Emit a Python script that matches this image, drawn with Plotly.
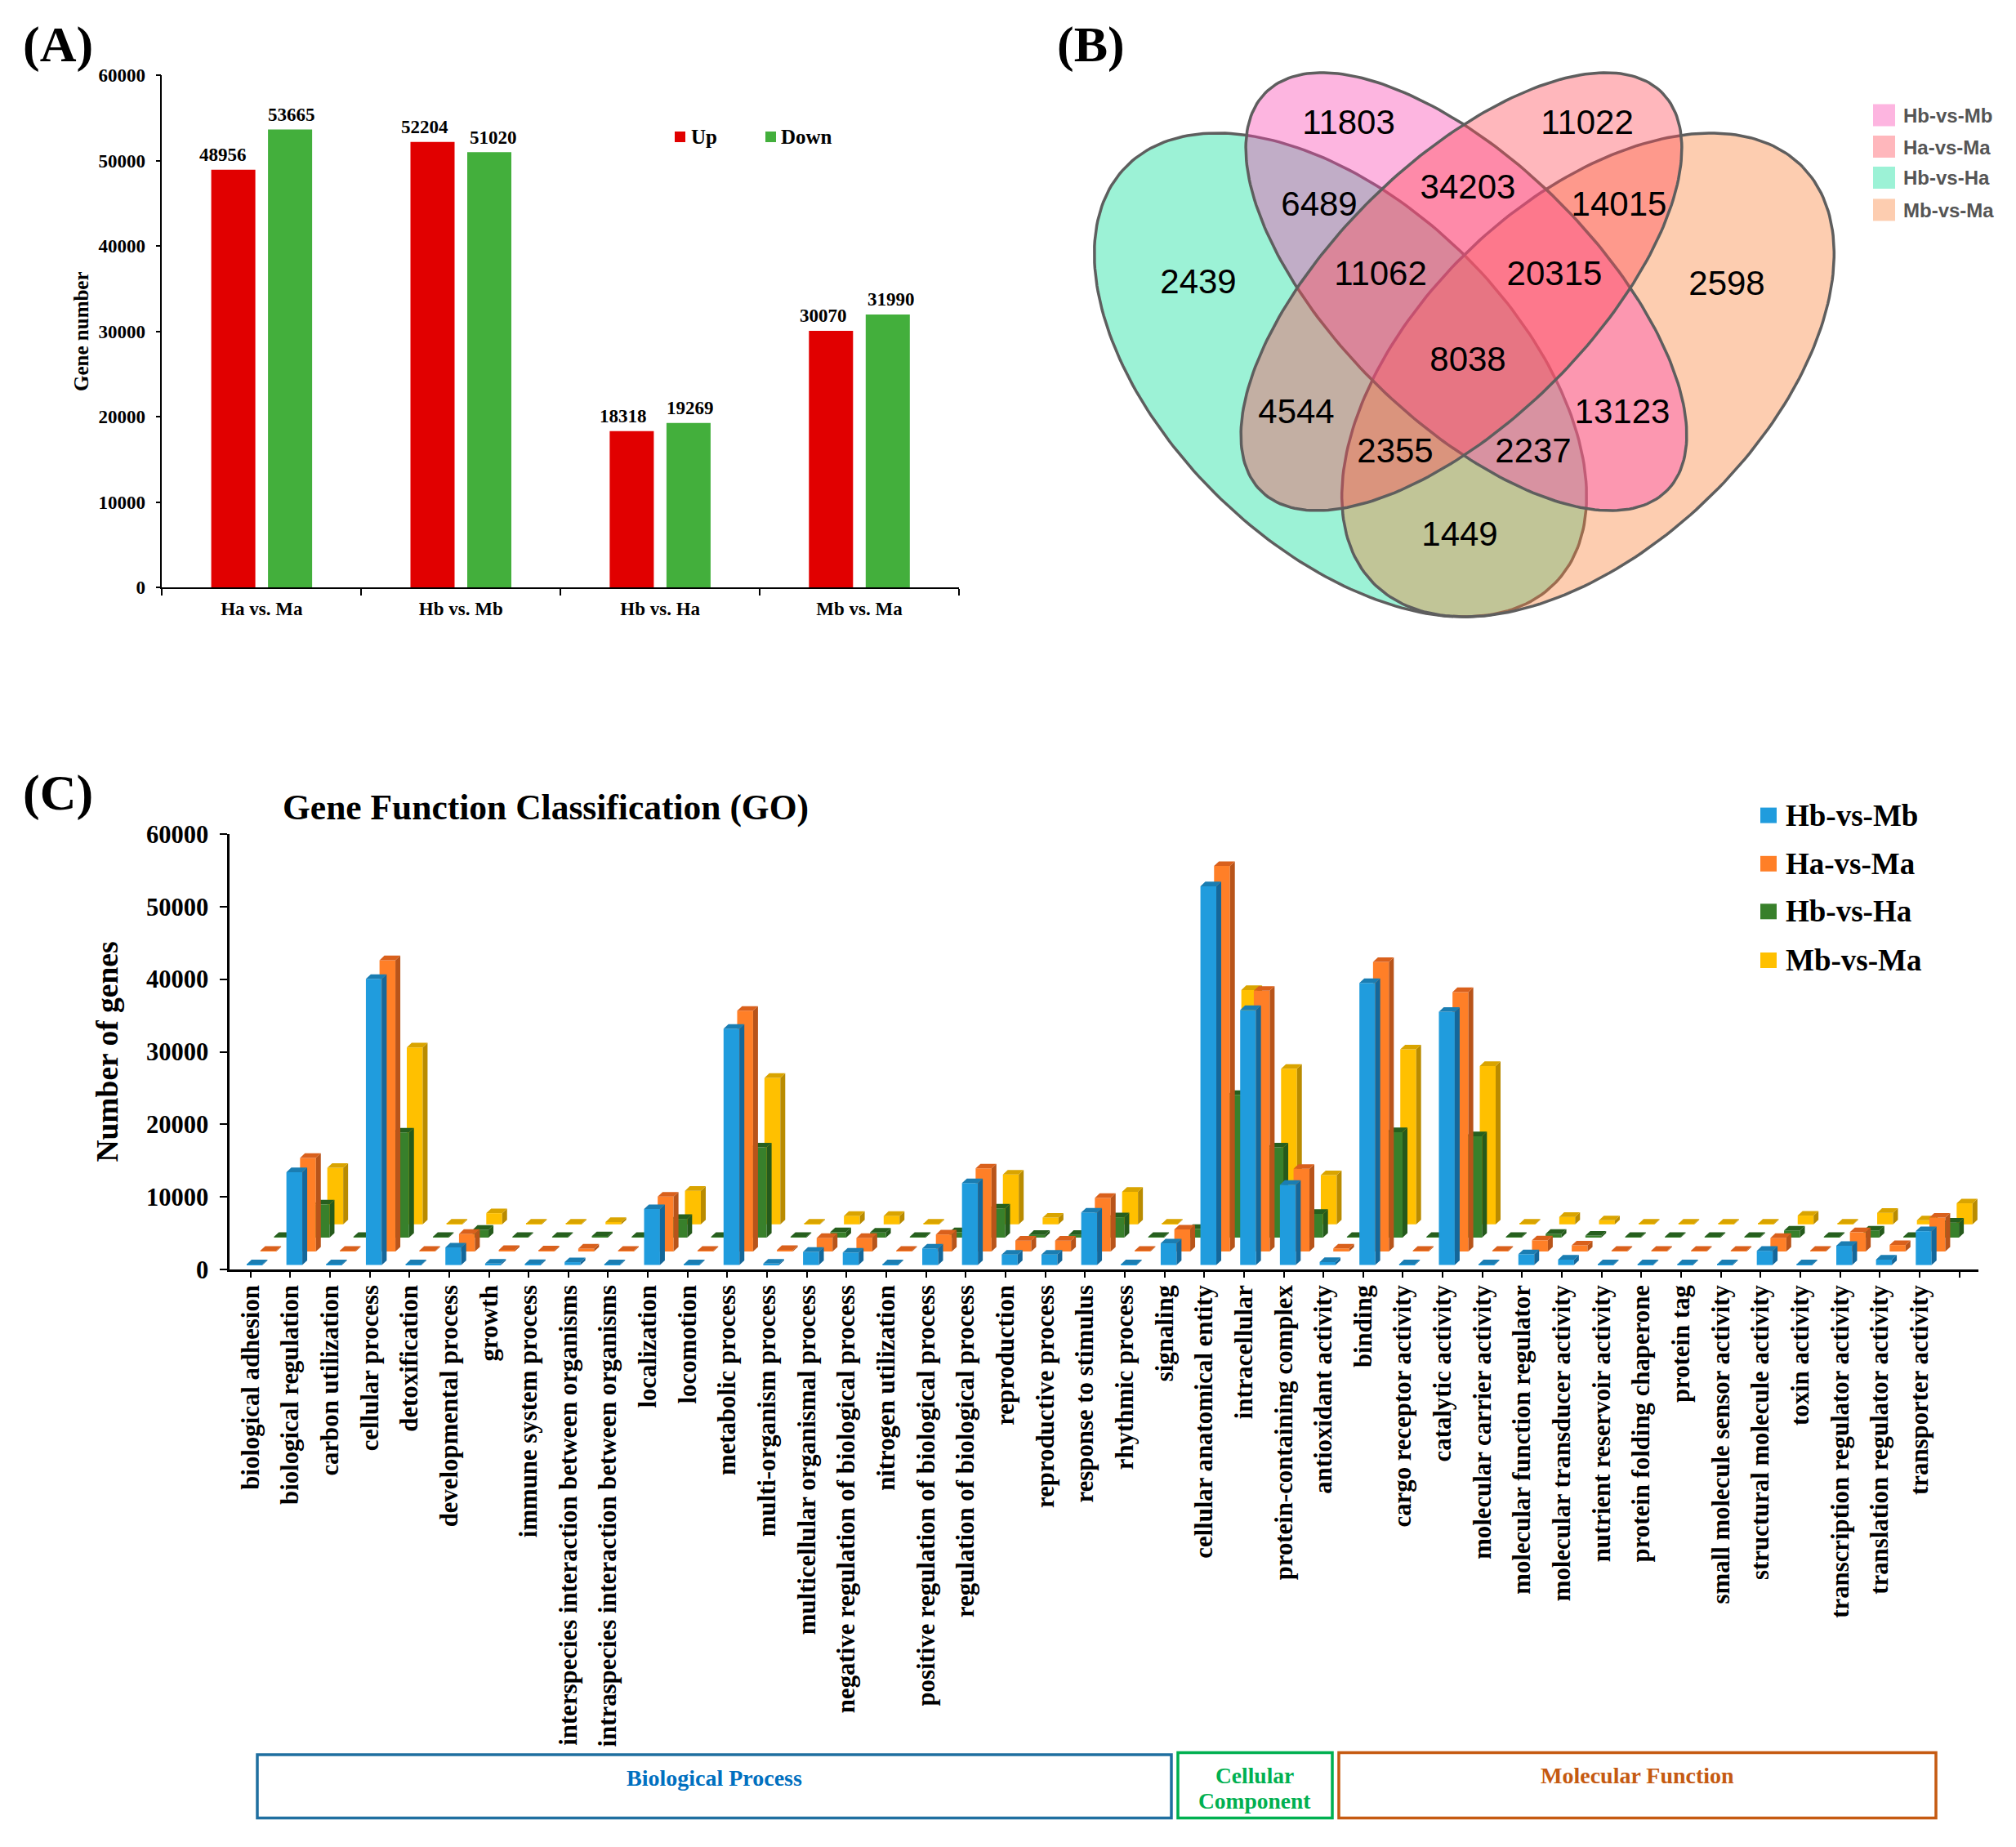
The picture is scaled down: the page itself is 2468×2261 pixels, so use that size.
import numpy as np
import plotly.graph_objects as go

W, H = 2468, 2261
SERIF = "Liberation Serif"
SANS = "Liberation Sans"

# ---------- Panel A data ----------
a_categories = ["Ha vs. Ma", "Hb vs. Mb", "Hb vs. Ha", "Mb vs. Ma"]
a_up = [48956, 52204, 18318, 30070]
a_down = [53665, 51020, 19269, 31990]
a_up_label_shift = [-13, -10, -11, -9]
a_down_label_shift = [2, 5, 2, 4]

# ---------- Panel B data ----------
venn_sets = ["Hb-vs-Ha", "Mb-vs-Ma", "Hb-vs-Mb", "Ha-vs-Ma"]
venn_values = [11803, 11022, 6489, 34203, 14015, 2439, 11062, 20315, 2598, 8038,
               4544, 13123, 2355, 2237, 1449]
venn_label_x = [1651, 1943, 1615, 1797, 1982, 1467, 1690, 1903, 2114, 1797,
                1587, 1986, 1708, 1877, 1787]
venn_label_y = [153, 153, 253, 232, 253, 348, 338, 338, 350, 443,
                507, 507, 555, 555, 657]
venn_cx = [1641, 1944, 1795, 1789]
venn_cy = [459, 459, 357, 357]
venn_a = [366, 366, 346, 346]
venn_b = [211, 211, 158, 158]
venn_angle = [44, -44, 44.7, -44.7]
venn_fill = ["rgba(57,229,173,0.5)", "rgba(250,130,57,0.4)",
             "rgba(250,70,177,0.4)", "rgba(255,75,87,0.4)"]
venn_legend_names = ["Hb-vs-Mb", "Ha-vs-Ma", "Hb-vs-Ha", "Mb-vs-Ma"]
venn_legend_colors = ["#FDB5E0", "#FFB7BC", "#9CF2D6", "#FDCDB0"]

# ---------- Panel C data ----------
go_terms = [
    "biological adhesion", "biological regulation", "carbon utilization", "cellular process",
    "detoxification", "developmental process", "growth", "immune system process",
    "interspecies interaction between organisms", "intraspecies interaction between organisms",
    "localization", "locomotion", "metabolic process", "multi-organism process",
    "multicellular organismal process", "negative regulation of biological process",
    "nitrogen utilization", "positive regulation of biological process",
    "regulation of biological process", "reproduction", "reproductive process",
    "response to stimulus", "rhythmic process", "signaling", "cellular anatomical entity",
    "intracellular", "protein-containing complex", "antioxidant activity", "binding",
    "cargo receptor activity", "catalytic activity", "molecular carrier activity",
    "molecular function regulator", "molecular transducer activity", "nutrient reservoir activity",
    "protein folding chaperone", "protein tag", "small molecule sensor activity",
    "structural molecule activity", "toxin activity", "transcription regulator activity",
    "translation regulator activity", "transporter activity",
]
hb_vs_mb = [100, 12800, 100, 39440, 100, 2430, 200, 150, 400, 100, 7710, 100, 32570, 200,
            1820, 1730, 100, 2290, 11300, 1450, 1450, 7240, 100, 2990, 52200, 35140, 11070,
            420, 38880, 100, 34900, 100, 1500, 750, 100, 100, 100, 100, 1960, 100, 2660, 750, 4670]
ha_vs_ma = [100, 12900, 100, 40140, 100, 2430, 200, 150, 400, 100, 7570, 100, 33180, 200,
            1870, 1870, 100, 2340, 11450, 1500, 1500, 7380, 100, 3040, 53130, 35930, 11400,
            420, 39900, 100, 35750, 100, 1540, 840, 100, 100, 100, 100, 1870, 100, 2660, 890, 4670]
hb_vs_ha = [100, 4580, 100, 14490, 100, 1070, 100, 100, 190, 100, 2570, 100, 12430, 100,
            750, 700, 100, 750, 4020, 370, 370, 2800, 100, 1200, 19670, 12430, 3270,
            100, 14530, 100, 13970, 100, 510, 280, 100, 100, 100, 100, 980, 100, 980, 100, 2060]
mb_vs_ma = [100, 7800, 100, 24390, 100, 1540, 100, 100, 320, 100, 4630, 100, 20190, 100,
            1170, 1170, 100, 100, 6870, 930, 100, 4490, 100, 100, 32290, 21450, 6780,
            100, 24110, 100, 21820, 100, 1030, 560, 100, 100, 100, 100, 1210, 100, 1590, 560, 2900]
c_series_names = ["Hb-vs-Mb", "Ha-vs-Ma", "Hb-vs-Ha", "Mb-vs-Ma"]
c_series_values = [hb_vs_mb, ha_vs_ma, hb_vs_ha, mb_vs_ma]
c_depth_base = [607, 2477, 4393, 6215]
c_front = ["#209CDD", "#FF7F27", "#38802B", "#FFC000"]
c_top = ["#1A7DB2", "#D9601C", "#265F1E", "#D9A400"]
c_side = ["#14679A", "#B8541A", "#255A1C", "#B98B00"]

# ---------- pixel helpers for layout only ----------
def fx(p):
    return p / W

def fy(p):
    return 1 - p / H

shapes, annotations = [], []

def label(x, y, text, size, family=SERIF, weight=700, color="#000000", xanchor="center"):
    annotations.append(dict(x=fx(x), y=fy(y), xref="paper", yref="paper", text=text, showarrow=False,
                            xanchor=xanchor, yanchor="middle",
                            font=dict(family=family, size=size, weight=weight, color=color)))

def swatch(x0, y0, x1, y1, color):
    shapes.append(dict(type="rect", xref="paper", yref="paper", x0=fx(x0), x1=fx(x1), y0=fy(y0), y1=fy(y1),
                       fillcolor=color, line=dict(width=0)))

def box(x0, y0, x1, y1, color):
    shapes.append(dict(type="rect", xref="paper", yref="paper", x0=fx(x0), x1=fx(x1), y0=fy(y0), y1=fy(y1),
                       fillcolor="rgba(0,0,0,0)", line=dict(width=3.5, color=color)))

fig = go.Figure()

# ---------- Panel A ----------
fig.add_trace(go.Bar(x=a_categories, y=a_up, name="Up", marker=dict(color="#E10000", line=dict(width=0)),
                     xaxis="x", yaxis="y", showlegend=False))
fig.add_trace(go.Bar(x=a_categories, y=a_down, name="Down", marker=dict(color="#43AF3C", line=dict(width=0)),
                     xaxis="x", yaxis="y", showlegend=False))
for i, cat in enumerate(a_categories):
    annotations.append(dict(x=i - 0.142, y=a_up[i], xref="x", yref="y", text=str(a_up[i]), showarrow=False,
                            xshift=a_up_label_shift[i], yshift=18,
                            font=dict(family=SERIF, size=23, weight=700, color="#000000")))
    annotations.append(dict(x=i + 0.142, y=a_down[i], xref="x", yref="y", text=str(a_down[i]), showarrow=False,
                            xshift=a_down_label_shift[i], yshift=18,
                            font=dict(family=SERIF, size=23, weight=700, color="#000000")))
swatch(826, 161, 839, 174, "#E10000")
label(844, 168, "Up", 25, xanchor="left")
swatch(937, 161, 950, 174, "#43AF3C")
label(954, 168, "Down", 25, xanchor="left")
label(71, 54, "(A)", 62)

# ---------- Panel B ----------
for k in range(4):
    t = np.linspace(0, 2 * np.pi, 241)
    th = np.radians(venn_angle[k])
    ex = venn_cx[k] + venn_a[k] * np.cos(t) * np.cos(th) - venn_b[k] * np.sin(t) * np.sin(th)
    ey = venn_cy[k] + venn_a[k] * np.cos(t) * np.sin(th) + venn_b[k] * np.sin(t) * np.cos(th)
    fig.add_trace(go.Scatter(x=ex, y=ey, mode="lines", fill="toself", fillcolor=venn_fill[k], name=venn_sets[k],
                             line=dict(color="#5E5E5E", width=3.5), xaxis="x2", yaxis="y2",
                             hoverinfo="name", showlegend=False))
fig.add_trace(go.Scatter(x=venn_label_x, y=venn_label_y, mode="text", text=[str(v) for v in venn_values],
                         textfont=dict(family=SANS, size=42, color="#000000"), xaxis="x2", yaxis="y2",
                         textposition="middle center", hoverinfo="text", showlegend=False))
for name, color, y0 in zip(venn_legend_names, venn_legend_colors, [127.5, 166, 204, 243.4]):
    swatch(2293, y0, 2320, y0 + 27, color)
    label(2328, y0 + 14, name, 24, family=SANS, color="#555555", xanchor="left")
label(1335, 54, "(B)", 62)

# ---------- Panel C ----------
BAR_W = 0.4
X0 = 0.105 - BAR_W / 2
SHIFT = 0.343
DX, DY = 0.123, 630
axis_pairs = {3: ("x3", "y3"), 2: ("x4", "y4"), 1: ("x5", "y5"), 0: ("x6", "y6")}
for s in [3, 2, 1, 0]:
    xa, ya = axis_pairs[s]
    vals = c_series_values[s]
    base = c_depth_base[s]
    xl = [i + X0 + s * SHIFT for i in range(len(vals))]
    fig.add_trace(go.Bar(x=[v + BAR_W / 2 for v in xl], y=vals, base=[base] * len(vals), width=BAR_W,
                         name=c_series_names[s], marker=dict(color=c_front[s], line=dict(width=0)),
                         xaxis=xa, yaxis=ya, showlegend=False, hovertext=go_terms, hoverinfo="y+name+text"))
    tx, ty, sx, sy = [], [], [], []
    for left, v in zip(xl, vals):
        r = left + BAR_W
        top = base + v
        tx += [left, r, r + DX, left + DX, left, None]
        ty += [top, top, top + DY, top + DY, top, None]
        sx += [r, r, r + DX, r + DX, r, None]
        sy += [base, top, top + DY, base + DY, base, None]
    for px_, py_, col in ((sx, sy, c_side[s]), (tx, ty, c_top[s])):
        fig.add_trace(go.Scatter(x=px_, y=py_, mode="lines", fill="toself", fillcolor=col,
                                 line=dict(width=0, color=col), xaxis=xa, yaxis=ya,
                                 hoverinfo="skip", showlegend=False))

c_legend_y = [988.6, 1047.8, 1106.3, 1166]
for name, col, y0 in zip(c_series_names, c_front, c_legend_y):
    swatch(2155, y0, 2175, y0 + 19, col)
    label(2184, y0 + 9.5, name, 37, xanchor="left")
label(668, 988, "Gene Function Classification (GO)", 43.5)
label(71, 970, "(C)", 62)

box(315, 2148, 1434, 2225.5, "#1F6FA0")
label(874.5, 2176, "Biological Process", 28, color="#0070C0")
box(1442, 2145.5, 1631, 2225.5, "#00B050")
label(1536, 2173, "Cellular", 27.5, color="#00B050")
label(1536, 2204, "Component", 27.5, color="#00B050")
box(1639, 2145.5, 2370, 2225.5, "#C55A11")
label(2004, 2173, "Molecular Function", 28, color="#C55A11")

# ---------- Layout ----------
c_xrange = [(281 - 306.6) / 48.65, (2422 - 306.6) / 48.65]
c_xdom = [fx(281), fx(2422)]
c_ydom = [fy(1554), fy(1021)]
hidden_c = dict(domain=c_xdom, range=c_xrange, visible=False)
hidden_cy = dict(domain=c_ydom, range=[0, 60000], visible=False)

fig.update_layout(
    width=W, height=H, margin=dict(l=0, r=0, t=0, b=0, pad=0, autoexpand=False),
    paper_bgcolor="white", plot_bgcolor="rgba(0,0,0,0)",
    barmode="group", bargap=0.43, bargroupgap=0.223, showlegend=False,
    shapes=shapes, annotations=annotations,
    xaxis=dict(domain=[fx(198.4), fx(1174)], range=[-0.5, 3.5], type="category", tickson="boundaries",
               showline=True, linecolor="black", linewidth=1.5, ticks="outside", ticklen=8, tickwidth=1.5,
               tickcolor="black", showgrid=False, zeroline=False, ticklabelstandoff=5,
               tickfont=dict(family=SERIF, size=23, weight=700, color="black")),
    yaxis=dict(domain=[fy(719), fy(92.4)], range=[0, 60000], tick0=0, dtick=10000, tickformat="d",
               showline=True, linecolor="black", linewidth=1.5, ticks="outside", ticklen=6, tickwidth=1.5,
               tickcolor="black", showgrid=False, zeroline=False, ticklabelstandoff=8,
               tickfont=dict(family=SERIF, size=23, weight=700, color="black"),
               title=dict(text="Gene number", standoff=5,
                          font=dict(family=SERIF, size=25, weight=700, color="black"))),
    xaxis2=dict(domain=[fx(1300), fx(2300)], range=[1300, 2300], visible=False, anchor="y2"),
    yaxis2=dict(domain=[fy(800), fy(30)], range=[800, 30], visible=False, anchor="x2"),
    xaxis3=dict(domain=c_xdom, range=c_xrange, anchor="y3", tickmode="array",
                tickvals=list(range(len(go_terms) + 1)), ticktext=go_terms + [""], tickangle=-90,
                showline=True, linecolor="black", linewidth=2.5, ticks="outside", ticklen=7, tickwidth=2,
                tickcolor="black", showgrid=False, zeroline=False, ticklabelstandoff=-3,
                tickfont=dict(family=SERIF, size=30.8, weight=700, color="black")),
    yaxis3=dict(domain=c_ydom, range=[0, 60000], anchor="x3", tick0=0, dtick=10000, tickformat="d",
                showline=True, linecolor="black", linewidth=2.5, ticks="outside", ticklen=9, tickwidth=2,
                tickcolor="black", showgrid=False, zeroline=False, ticklabelstandoff=8,
                tickfont=dict(family=SERIF, size=30.5, weight=700, color="black"),
                title=dict(text="Number of genes", standoff=23,
                           font=dict(family=SERIF, size=37.5, weight=700, color="black"))),
    xaxis4=dict(hidden_c, overlaying="x3", anchor="y4"), yaxis4=dict(hidden_cy, overlaying="y3", anchor="x4"),
    xaxis5=dict(hidden_c, overlaying="x3", anchor="y5"), yaxis5=dict(hidden_cy, overlaying="y3", anchor="x5"),
    xaxis6=dict(hidden_c, overlaying="x3", anchor="y6"), yaxis6=dict(hidden_cy, overlaying="y3", anchor="x6"),
)
fig.write_html("out.html", config={"displayModeBar": False}, post_script="document.body.style.margin='0';")
